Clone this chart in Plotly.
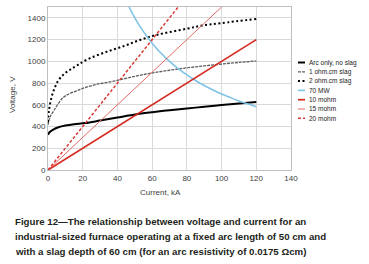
import plotly.graph_objects as go

# ---- data ----
arc_I = [0, 1, 3, 6, 10, 15, 21.5, 30, 40, 51, 60, 70, 80, 90, 100, 110, 120]
arc_V = [325, 350, 372, 394, 410, 422, 432, 455, 483, 513, 532, 550, 566, 582, 598, 612, 626]

slag1_I = [0, 1, 3.5, 9, 17, 26.6, 38, 50, 60, 70, 80, 90, 100, 110, 120]
slag1_V = [414, 480, 550, 670, 732, 783, 818, 862, 893, 918, 940, 958, 975, 990, 1003]

slag2_I = [0, 0.6, 2.5, 5.5, 9, 13, 17.5, 24, 34, 44, 53, 63, 80, 89, 100, 120]
slag2_V = [440, 555, 695, 812, 880, 925, 970, 1028, 1089, 1142, 1197, 1245, 1300, 1330, 1352, 1390]

mw70_I = [46.7, 50, 55, 60, 65, 70, 75, 80, 85, 90, 95, 100, 105, 110, 115, 120]
mw70_V = [1500, 1400, 1273, 1167, 1077, 1000, 933, 875, 824, 778, 737, 700, 667, 636, 609, 583]

r10_I = [0, 120]
r10_V = [0, 1200]
r15_I = [0, 100]
r15_V = [0, 1500]
r20_I = [0, 75]
r20_V = [0, 1500]

x_ticks = [0, 20, 40, 60, 80, 100, 120, 140]
y_ticks = [0, 200, 400, 600, 800, 1000, 1200, 1400]

series_names = ["Arc only, no slag", "1 ohm.cm slag", "2 ohm.cm slag", "70 MW",
                "10 mohm", "15 mohm", "20 mohm"]

caption = [
    "Figure 12\u2014The relationship between voltage and current for an",
    "industrial-sized furnace operating at a fixed arc length of 50 cm and",
    "with a slag depth of 60 cm (for an arc resistivity of 0.0175 \u03a9cm)",
]

styles = [
    dict(color="#000000", width=2),
    dict(color="#5e5e5e", width=1.3, dash="3px,1px"),
    dict(color="#000000", width=2, dash="2px,2.5px"),
    dict(color="#7fc3e6", width=1.6),
    dict(color="#d42a20", width=1.7),
    dict(color="#e06a66", width=1),
    dict(color="#d83a34", width=1.5, dash="3px,2px"),
]
xs = [arc_I, slag1_I, slag2_I, mw70_I, r10_I, r15_I, r20_I]
ys = [arc_V, slag1_V, slag2_V, mw70_V, r10_V, r15_V, r20_V]

fig = go.Figure()
for name, x, y, st in zip(series_names, xs, ys, styles):
    line = dict(st)
    if len(x) > 2:
        line["shape"] = "spline"
    fig.add_trace(go.Scatter(x=x, y=y, name=name, mode="lines", line=line, showlegend=False,
                             hoverinfo="skip"))

# plot area geometry in pixels
L, R, T, B = 48, 78, 7, 94
W, H = 369, 264
PW, PH = W - L - R, H - T - B

def px(xp):
    return (xp - L) / PW

def py(yp):
    return (H - B - yp) / PH

axis_font = dict(family="Arial", size=8, color="#404040")
fig.update_xaxes(range=[0, 140], tickvals=x_ticks, showgrid=True, gridcolor="#d9d9d9",
                 gridwidth=1, showline=True, linecolor="#bfbfbf", mirror=True,
                 zeroline=False, ticks="", tickfont=axis_font, automargin=False)
fig.update_yaxes(range=[0, 1500], tickvals=y_ticks, showgrid=True, gridcolor="#d9d9d9",
                 gridwidth=1, showline=True, linecolor="#bfbfbf", mirror=True,
                 zeroline=False, ticks="", tickfont=axis_font, automargin=False)

annotations = [
    dict(text="Current, kA", xref="paper", yref="paper", x=px(160.7), y=py(192.7),
         xanchor="center", yanchor="middle", showarrow=False, font=axis_font),
    dict(text="Voltage, V", xref="paper", yref="paper", x=px(12), y=py(95),
         xanchor="center", yanchor="middle", showarrow=False, font=axis_font, textangle=-90),
]
for i, line in enumerate(caption):
    annotations.append(dict(text=line, xref="paper", yref="paper", x=px(12.5), y=py(221.7 + 14.7 * i),
                            xanchor="left", yanchor="middle", showarrow=False,
                            font=dict(family="Arial", size=9.7, color="#231f20", weight="bold")))

shapes = []
for i, (name, st) in enumerate(zip(series_names, styles)):
    yy = py(62.5 + 9.3 * i)
    shapes.append(dict(type="line", xref="paper", yref="paper", x0=px(298), x1=px(305),
                       y0=yy, y1=yy, line=st))
    annotations.append(dict(text=name, xref="paper", yref="paper", x=px(306.5), y=yy,
                            xanchor="left", yanchor="middle", showarrow=False,
                            font=dict(family="Arial", size=6.5, color="#1a1a1a")))

fig.update_layout(
    width=W, height=H,
    margin=dict(l=L, r=R, t=T, b=B),
    paper_bgcolor="white", plot_bgcolor="white",
    showlegend=False,
    hovermode=False,
    annotations=annotations,
    shapes=shapes,
)

fig.write_html("out.html", config={"displayModeBar": False, "staticPlot": True},
               post_script="document.body.style.margin='0';document.body.style.overflow='hidden';")
